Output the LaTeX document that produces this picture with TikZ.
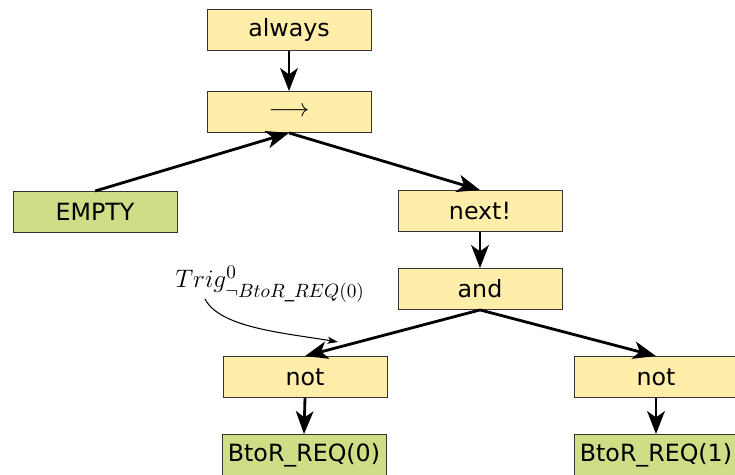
\documentclass[tikz,border=0pt]{standalone}
\usepackage{amsmath}
\usepackage{amssymb}
\usepackage{fontspec}
\setmainfont{DejaVu Sans}
\usepackage{tikz}
\usetikzlibrary{arrows.meta, positioning}

\definecolor{opfill}{HTML}{FFEEAA}
\definecolor{leaffill}{HTML}{CDDE87}

\begin{document}
\begin{tikzpicture}[x=0.02cm, y=-0.02cm,
      every node/.style={align=center, rectangle, draw=black!80, line width=0.5pt,
        minimum width=3.28cm, minimum height=0.82cm, inner sep=0pt,
        font=\fontsize{13.5}{15}\selectfont},
      opbox/.style={fill=opfill},
      leafbox/.style={fill=leaffill},
      link/.style={line width=1.6pt, -{Stealth[length=13pt, width=10pt, inset=3.5pt]}},
      note/.style={line width=0.6pt, -{Stealth[length=6pt, width=4pt, inset=1.5pt]}}]
      \useasboundingbox (0,0) rectangle (735,475);
      % tree
      \node[opbox] (always) at (289,30) {always};
      \node[opbox] (impl) at (289,112) {$\longrightarrow$};
      \node[leafbox] (empty) at (95,212) {EMPTY};
      \node[opbox] (next) at (480,211) {next!};
      \node[opbox] (and) at (480,289) {and};
      \node[opbox] (notl) at (305,377) {not};
      \node[opbox] (notr) at (656,377) {not};
      \node[leafbox] (reql) at (304,455) {BtoR\_REQ(0)};
      \node[leafbox] (reqr) at (656,455) {BtoR\_REQ(1)};
      \draw[link] (always.south) -- (impl.north);
      \draw[link] (empty.north) -- (impl.south);
      \draw[link] (impl.south) -- (next.north);
      \draw[link] (next.south) -- (and.north);
      \draw[link] (and.south) -- (notl.north);
      \draw[link] (and.south) -- (notr.north);
      \draw[link] (notl.south) -- (reql.north);
      \draw[link] (notr.south) -- (reqr.north);
      % annotation
      \node[draw=none, minimum width=0pt, minimum height=0pt, inner sep=1pt,
        font=\fontsize{15}{17}\selectfont] (trig) at (270,284) {$Trig^{0}_{\neg BtoR\_REQ(0)}$};
      \coordinate (hit) at (338,342);
      \draw[note] (205,299) .. controls (220,328) and (285,333) .. (hit);
\end{tikzpicture}
\end{document}
